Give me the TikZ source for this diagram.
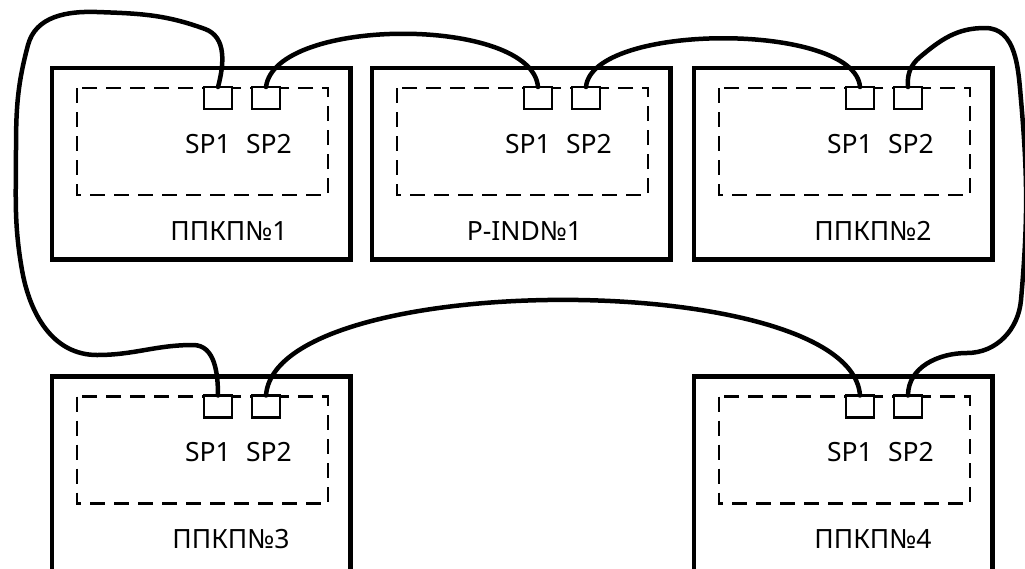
\documentclass[tikz,border=0pt]{standalone}
\usepackage{fontspec}
\setmainfont{Noto Sans}
\newcommand\panel[6]{%
 \begin{scope}[shift={(#2,#3)}]
  \node[outerbox, minimum height=#4] (#1) at (0,0) {};
  \draw[dashbox] (25,20) rectangle (276,127);
  \node[port] (#1a) at (152,19) {};
  \node[port] (#1b) at (200,19) {};
  \node[lbl] (#1sa) at (156,85) {SP1};
  \node[lbl] (#1sb) at (217,85) {SP2};
  \node[lbl] (#1l) at (#5,172) {#6};
 \end{scope}}
\begin{document}
\begin{tikzpicture}[x=1pt,y=-1pt,
  outerbox/.style={draw, line width=4.5pt, rectangle, minimum width=298.5pt, anchor=north west, inner sep=0pt, outer sep=0pt},
  dashbox/.style={line width=2.2pt, dash pattern=on 15pt off 9pt},
  port/.style={draw, fill=white, line width=2.2pt, minimum width=28pt, minimum height=22pt, inner sep=0pt, outer sep=0pt, anchor=north west},
  lbl/.style={font=\fontsize{26.5}{30}\selectfont, anchor=base, inner sep=0pt},
  wire/.style={line width=4.5pt, line cap=round, line join=round}]
\useasboundingbox (0,0) rectangle (1025,568);
\clip (0,0) rectangle (1025,568);
\panel{b1}{52}{68}{191.5}{177}{ППКП№1}
\panel{b2}{372}{68}{191.5}{152.5}{P-IND№1}
\panel{b3}{694}{68}{191.5}{179}{ППКП№2}
\panel{b4}{52}{376.5}{205}{179}{ППКП№3}
\panel{b5}{694}{376.5}{205}{179}{ППКП№4}
% top wires
\draw[wire] (b1b.north) .. controls (275,16) and (532,16) .. (b2a.north);
\draw[wire] (b2b.north) .. controls (592,22) and (855,22) .. (b3a.north);
\draw[wire] (b4b.north) .. controls (275,268) and (851,268) .. (b5a.north);
% left loop
\draw[wire] (b1a.north) to[out=75,in=-20] (205,29) to[out=160,in=-2] (97,12)
  to[out=178,in=75] (28,45) to[out=-105,in=90] (16,150) to[out=-90,in=100] (22,270)
  to[out=-80,in=180] (97,355) to[out=0,in=180] (193,345) to[out=0,in=90] (b4a.north);
% right loop
\draw[wire] (b3b.north) to[out=95,in=-140] (920,57) to[out=40,in=180] (985,28)
  to[out=0,in=95] (1021,100) to[out=-85,in=85] (1021,300) to[out=-95,in=0] (967,353)
  to[out=180,in=90] (b5b.north);
\end{tikzpicture}
\end{document}
